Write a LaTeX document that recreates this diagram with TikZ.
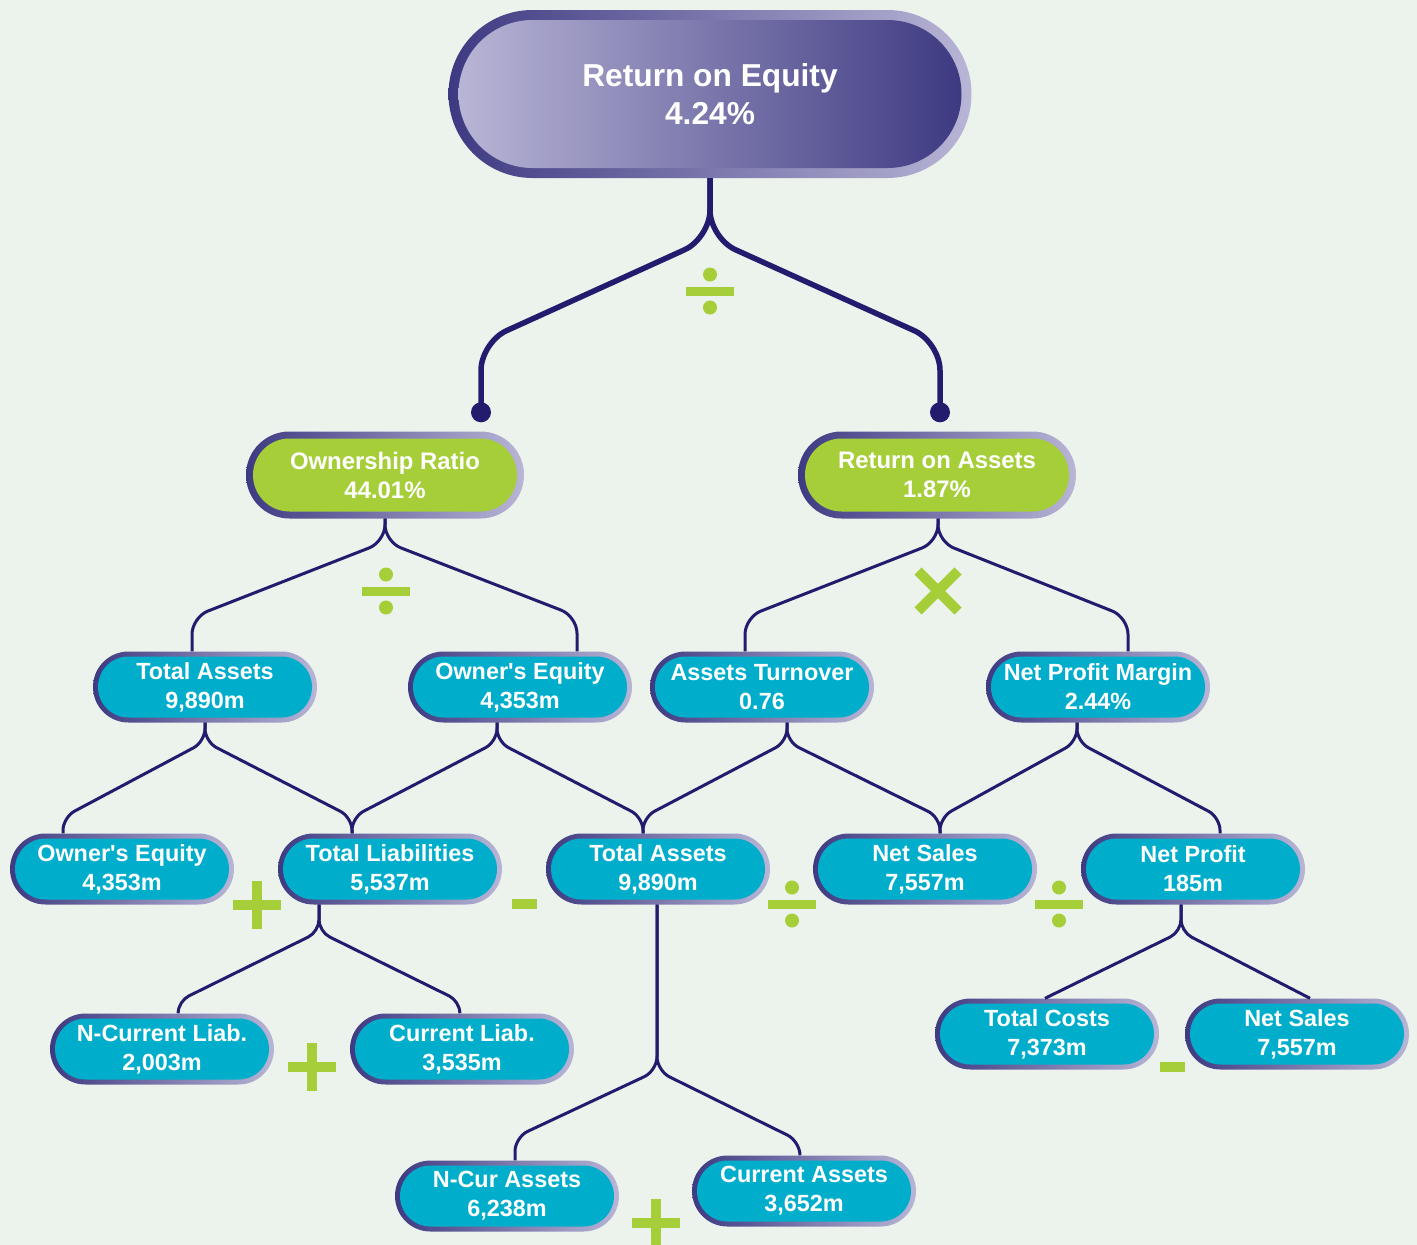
\documentclass[tikz,border=0pt]{standalone}
\usepackage{fontspec}
\setmainfont{Liberation Sans}
\usetikzlibrary{shapes.misc}
\definecolor{paper}{HTML}{ECF3EC}
\definecolor{wire}{HTML}{221C6E}
\definecolor{rimdark}{HTML}{3E3A82}
\definecolor{rimlight}{HTML}{B8B5D6}
\definecolor{tileblue}{HTML}{00AECC}
\definecolor{tilegreen}{HTML}{A6CE39}
\tikzset{
  shell/.style={rounded rectangle, inner sep=0pt, left color=rimdark, right color=rimlight},
  core/.style={rounded rectangle, inner sep=0pt, text=white, align=center},
  blue shell/.style={shell, minimum width=224pt, minimum height=71pt},
  blue core/.style={core, fill=tileblue, minimum width=214pt, minimum height=61pt, font=\fontsize{23.4}{29}\selectfont\bfseries},
  green shell/.style={shell, minimum width=278pt, minimum height=87pt},
  green core/.style={core, fill=tilegreen, minimum width=264pt, minimum height=73pt, font=\fontsize{23.9}{29}\selectfont\bfseries},
  top shell/.style={shell, minimum width=523pt, minimum height=168pt},
  top core/.style={core, left color=rimlight, right color=rimdark, minimum width=503pt, minimum height=148pt, font=\fontsize{31.7}{38}\selectfont\bfseries},
  link/.style={draw=wire, line width=3pt, rounded corners=13pt},
  opplus/.pic={\fill[tilegreen] (-24pt,-4.7pt) rectangle (24pt,4.7pt);
    \fill[tilegreen] (-4.7pt,-24pt) rectangle (4.7pt,24pt);},
  opminus/.pic={\fill[tilegreen] (-12.5pt,-5pt) rectangle (12.5pt,5pt);},
  opdiv/.pic={\fill[tilegreen] (-24pt,-4.5pt) rectangle (24pt,4.5pt);
    \fill[tilegreen] (0,16.5pt) circle (7pt) (0,-16.5pt) circle (7pt);},
  optimes/.pic={\draw[tilegreen, line width=10pt] (-20pt,-20pt) -- (20pt,20pt) (-20pt,20pt) -- (20pt,-20pt);},
}
\newcommand{\tile}[4]{%
  \node[#1 shell] (#2) at (#3) {};
  \node[#1 core] (#2-txt) at (#2.center) {#4};}

\begin{document}
\begin{tikzpicture}[x=1pt, y=-1pt]
    \useasboundingbox (0,0) rectangle (1417,1245);
    \fill[paper] (0,0) rectangle (1417,1245);
    % boxes
    \tile{top}{ROE}{710,94}{Return on Equity\\4.24\%}
    \tile{green}{OR}{385,475}{Ownership Ratio\\44.01\%}
    \tile{green}{ROA}{937,475}{Return on Assets\\1.87\%}
    \tile{blue}{TA1}{205,687}{Total Assets\\9,890m}
    \tile{blue}{OE1}{520,687}{Owner\textquotesingle s Equity\\4,353m}
    \tile{blue}{AT}{762,687}{Assets Turnover\\0.76}
    \tile{blue}{NPM}{1098,687}{Net Profit Margin\\2.44\%}
    \tile{blue}{OE2}{122,869}{Owner\textquotesingle s Equity\\4,353m}
    \tile{blue}{TL}{390,869}{Total Liabilities\\5,537m}
    \tile{blue}{TA2}{658,869}{Total Assets\\9,890m}
    \tile{blue}{NS1}{925,869}{Net Sales\\7,557m}
    \tile{blue}{NP}{1193,869}{Net Profit\\185m}
    \tile{blue}{NCL}{162,1049}{N-Current Liab.\\2,003m}
    \tile{blue}{CL}{462,1049}{Current Liab.\\3,535m}
    \tile{blue}{TC}{1047,1034}{Total Costs\\7,373m}
    \tile{blue}{NS2}{1297,1034}{Net Sales\\7,557m}
    \tile{blue}{NCA}{507,1196}{N-Cur Assets\\6,238m}
    \tile{blue}{CA}{804,1191}{Current Assets\\3,652m}
    % top fork
    \coordinate (ORpin) at ([xshift=96pt,yshift=19pt]OR.north);
    \coordinate (ROApin) at ([xshift=3pt,yshift=19pt]ROA.north);
    \draw[link, line width=5.5pt, rounded corners=28pt] (ROE.south) -- ++(0,60) -- ([yshift=70pt]ORpin) -- (ORpin);
    \draw[link, line width=5.5pt, rounded corners=28pt] (ROE.south) -- ++(0,60) -- ([yshift=70pt]ROApin) -- (ROApin);
    \fill[wire] (ORpin) circle (10pt);
    \fill[wire] (ROApin) circle (10pt);
    % second level
    \draw[link, rounded corners=17pt] (OR.south) -- ++(0,23) -- ([xshift=-13pt,yshift=34pt]TA1.north) -- ([xshift=-13pt]TA1.north);
    \draw[link, rounded corners=17pt] (OR.south) -- ++(0,23) -- ([xshift=57pt,yshift=35pt]OE1.north) -- ([xshift=57pt]OE1.north);
    \draw[link, rounded corners=17pt] ([xshift=1pt]ROA.south) -- ++(0,23) -- ([xshift=-17pt,yshift=34pt]AT.north) -- ([xshift=-17pt]AT.north);
    \draw[link, rounded corners=17pt] ([xshift=1pt]ROA.south) -- ++(0,23) -- ([xshift=30pt,yshift=34pt]NPM.north) -- ([xshift=30pt]NPM.north);
    % third level
    \draw[link] (TA1.south) -- ++(0,19) -- ([xshift=-59pt,yshift=16pt]OE2.north) -- ([xshift=-59pt]OE2.north);
    \draw[link] (TA1.south) -- ++(0,19) -- ([xshift=-38pt,yshift=16pt]TL.north) -- ([xshift=-38pt]TL.north);
    \draw[link] ([xshift=-23pt]OE1.south) -- ++(0,19) -- ([xshift=-38pt,yshift=16pt]TL.north) -- ([xshift=-38pt]TL.north);
    \draw[link] ([xshift=-23pt]OE1.south) -- ++(0,19) -- ([xshift=-15pt,yshift=16pt]TA2.north) -- ([xshift=-15pt]TA2.north);
    \draw[link] ([xshift=25pt]AT.south) -- ++(0,19) -- ([xshift=-15pt,yshift=16pt]TA2.north) -- ([xshift=-15pt]TA2.north);
    \draw[link] ([xshift=25pt]AT.south) -- ++(0,19) -- ([xshift=15pt,yshift=16pt]NS1.north) -- ([xshift=15pt]NS1.north);
    \draw[link] ([xshift=-21pt]NPM.south) -- ++(0,19) -- ([xshift=15pt,yshift=16pt]NS1.north) -- ([xshift=15pt]NS1.north);
    \draw[link] ([xshift=-21pt]NPM.south) -- ++(0,19) -- ([xshift=27pt,yshift=16pt]NP.north) -- ([xshift=27pt]NP.north);
    % fourth level
    \draw[link, rounded corners=12pt] ([xshift=-71pt]TL.south) -- ++(0,27) -- ([xshift=16pt,yshift=12pt]NCL.north) -- ([xshift=16pt]NCL.north);
    \draw[link, rounded corners=12pt] ([xshift=-71pt]TL.south) -- ++(0,27) -- ([xshift=-2pt,yshift=12pt]CL.north) -- ([xshift=-2pt]CL.north);
    \draw[link, rounded corners=14pt] ([xshift=-1pt]TA2.south) -- ++(0,166) -- ([xshift=8pt,yshift=23pt]NCA.north) -- ([xshift=8pt]NCA.north);
    \draw[link, rounded corners=14pt] ([xshift=-1pt]TA2.south) -- ++(0,166) -- ([xshift=-4pt,yshift=14pt]CA.north) -- ([xshift=-4pt]CA.north);
    \draw[link, rounded corners=12pt] ([xshift=-12pt]NP.south) -- ++(0,27) -- ([xshift=-2pt]TC.north);
    \draw[link, rounded corners=12pt] ([xshift=-12pt]NP.south) -- ++(0,27) -- ([xshift=13pt]NS2.north);
    % operators
    \pic at (710,291) {opdiv};
    \pic at (386,591) {opdiv};
    \pic at (938,591) {optimes};
    \pic at (257,905) {opplus};
    \pic at (524,904) {opminus};
    \pic at (792,904) {opdiv};
    \pic at (1059,904) {opdiv};
    \pic at (312,1067) {opplus};
    \pic at (1172,1067) {opminus};
    \pic at (656,1223) {opplus};
\end{tikzpicture}
\end{document}
